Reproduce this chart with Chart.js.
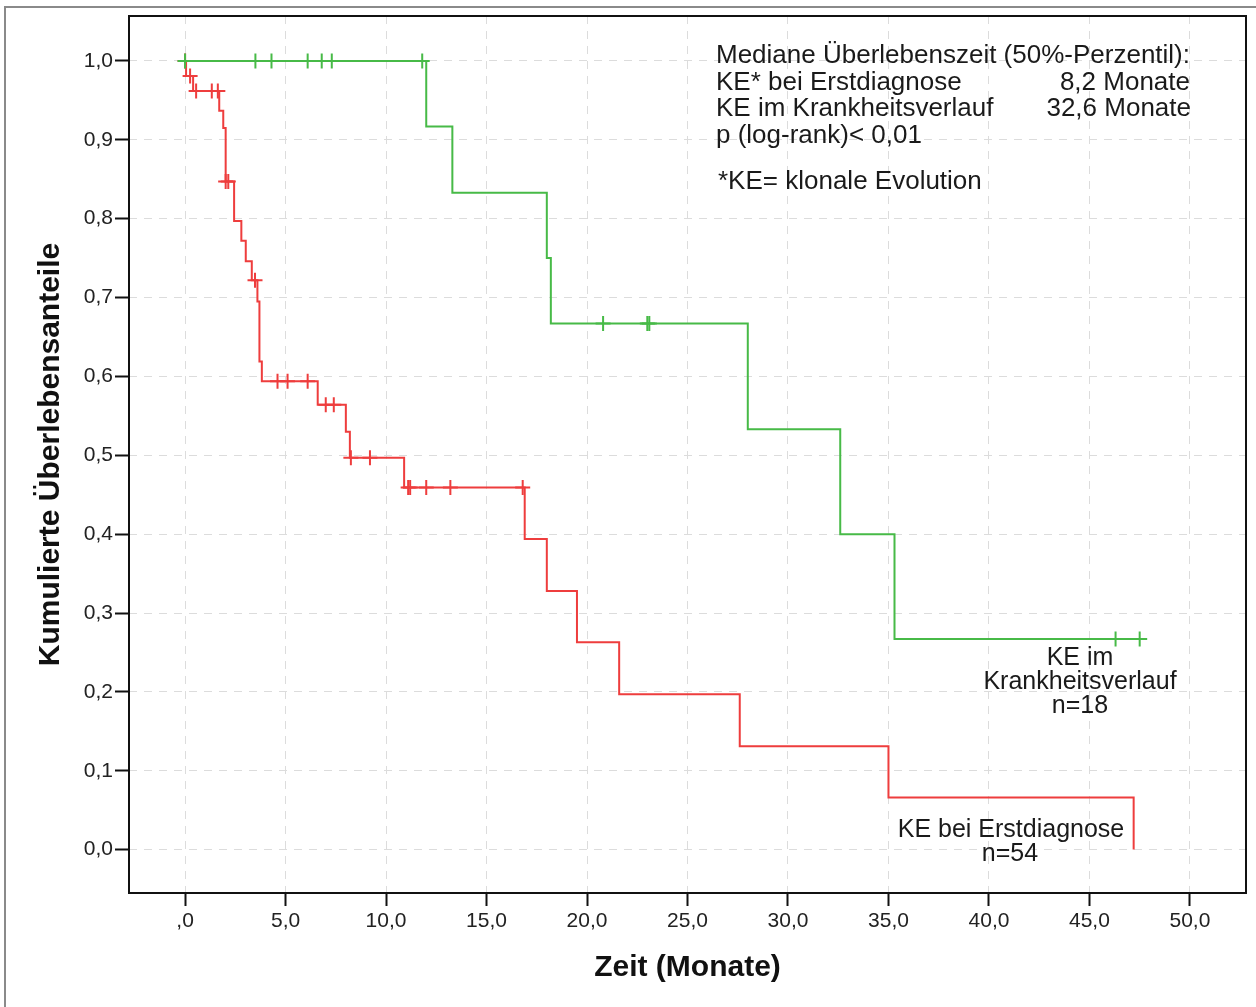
<!DOCTYPE html>
<html>
<head>
<meta charset="utf-8">
<script src="https://cdn.jsdelivr.net/npm/chart.js@4/dist/chart.umd.min.js"></script>
<style>
  html, body { margin: 0; padding: 0; background: #fff; }
  canvas { display: block; }
</style>
</head>
<body>
<canvas id="chart" width="1256" height="1007"></canvas>
<script>
// KE bei Erstdiagnose (n=54): times of the steps (months) and survival after each step
const redTimes = [0, 0.05, 0.4, 1.7, 1.9, 2.02, 2.44, 2.8, 3.02, 3.32, 3.6, 3.7, 3.82, 6.6, 8.0, 8.2, 10.9, 16.9, 18.0, 19.5, 21.6, 27.6, 35.0, 47.2];
const redSurv = [1.0, 0.981, 0.962, 0.937, 0.915, 0.847, 0.797, 0.772, 0.746, 0.722, 0.695, 0.619, 0.594, 0.564, 0.530, 0.497, 0.459, 0.394, 0.328, 0.263, 0.197, 0.131, 0.066, 0.0];
const redCensored = [0, 0.25, 0.55, 1.33, 1.63, 2.02, 2.15, 3.48, 4.6, 5.1, 6.1, 7.0, 7.4, 8.25, 9.2, 11.1, 11.2, 12.0, 13.2, 16.8];

// KE im Krankheitsverlauf (n=18)
const greenTimes = [0, 12.0, 13.3, 18.0, 18.2, 28.0, 32.6, 35.3, 47.5];
const greenSurv = [1.0, 0.917, 0.833, 0.750, 0.667, 0.533, 0.400, 0.267, 0.267];
const greenCensored = [0, 3.5, 4.3, 6.1, 6.8, 7.3, 11.8, 20.8, 23.0, 23.1, 46.3, 47.5];

// axes
const xTickValues = [0, 5, 10, 15, 20, 25, 30, 35, 40, 45, 50];
const xTickLabels = [',0', '5,0', '10,0', '15,0', '20,0', '25,0', '30,0', '35,0', '40,0', '45,0', '50,0'];
const yTickValues = [0, 0.1, 0.2, 0.3, 0.4, 0.5, 0.6, 0.7, 0.8, 0.9, 1.0];
const yTickLabels = ['0,0', '0,1', '0,2', '0,3', '0,4', '0,5', '0,6', '0,7', '0,8', '0,9', '1,0'];

const RED = '#ee3d3d';
const GREEN = '#47ba47';
const FONT = "'Liberation Sans', Arial, sans-serif";

// survival value of a curve at time t (for placing censor marks)
function survAt(times, surv, t) {
    let s = surv[0];
    times.forEach((tt, i) => { if (tt <= t) s = surv[i]; });
    return s;
}

function stepData(times, surv) {
    return times.map((t, i) => ({ x: t, y: surv[i] }));
}

function censorData(times, surv, cens) {
    return cens.map(t => ({ x: t, y: survAt(times, surv, t) }));
}

// white background, outer frame, plot box and the text notes
const decorations = {
    id: 'decorations',
    beforeDraw(chart) {
        const ctx = chart.ctx;
        ctx.save();
        ctx.fillStyle = '#fff';
        ctx.fillRect(0, 0, chart.width, chart.height);
        ctx.strokeStyle = '#8a8a8a';
        ctx.lineWidth = 2;
        ctx.strokeRect(5, 7, chart.width + 20, chart.height + 20);
        ctx.restore();
    },
    afterDraw(chart) {
        const { ctx, chartArea: a } = chart;
        ctx.save();
        ctx.strokeStyle = '#111';
        ctx.lineWidth = 2;
        ctx.strokeRect(a.left, a.top, a.right - a.left, a.bottom - a.top);

        ctx.fillStyle = '#1a1a1a';
        ctx.font = '26px ' + FONT;
        ctx.textBaseline = 'alphabetic';
        ctx.textAlign = 'left';
        ctx.fillText('Mediane Überlebenszeit (50%-Perzentil):', 716, 63);
        ctx.fillText('KE* bei Erstdiagnose', 716, 90);
        ctx.fillText('KE im Krankheitsverlauf', 716, 116);
        ctx.fillText('p (log-rank)< 0,01', 716, 143);
        ctx.fillText('*KE= klonale Evolution', 718, 189);
        ctx.textAlign = 'right';
        ctx.fillText('8,2 Monate', 1190, 90);
        ctx.fillText('32,6 Monate', 1191, 116);

        ctx.font = '25px ' + FONT;
        ctx.textAlign = 'center';
        ctx.fillText('KE im', 1080, 665);
        ctx.fillText('Krankheitsverlauf', 1080, 689);
        ctx.fillText('n=18', 1080, 713);
        ctx.fillText('KE bei Erstdiagnose', 1011, 837);
        ctx.fillText('n=54', 1010, 861);
        ctx.restore();
    }
};

const ctx = document.getElementById('chart').getContext('2d');
new Chart(ctx, {
    type: 'line',
    data: {
        datasets: [
            {
                data: stepData(greenTimes, greenSurv),
                borderColor: GREEN,
                borderWidth: 2,
                stepped: true,
                pointRadius: 0,
                fill: false
            },
            {
                type: 'scatter',
                data: censorData(greenTimes, greenSurv, greenCensored),
                pointStyle: 'cross',
                pointRadius: 7.5,
                borderWidth: 2,
                borderColor: GREEN,
                showLine: false
            },
            {
                data: stepData(redTimes, redSurv),
                borderColor: RED,
                borderWidth: 2,
                stepped: true,
                pointRadius: 0,
                fill: false
            },
            {
                type: 'scatter',
                data: censorData(redTimes, redSurv, redCensored),
                pointStyle: 'cross',
                pointRadius: 7.5,
                borderWidth: 2,
                borderColor: RED,
                showLine: false
            }
        ]
    },
    options: {
        responsive: false,
        animation: false,
        devicePixelRatio: 1,
        layout: { padding: { left: 0, top: 16, right: 10, bottom: 0 } },
        plugins: {
            legend: { display: false },
            tooltip: { enabled: false }
        },
        scales: {
            x: {
                type: 'linear',
                min: -2.79,
                max: 52.79,
                afterFit: (scale) => { scale.height = 114; },
                afterBuildTicks: (scale) => { scale.ticks = xTickValues.map(v => ({ value: v })); },
                ticks: {
                    autoSkip: false,
                    maxRotation: 0,
                    padding: 3,
                    color: '#222',
                    font: { family: FONT, size: 21 },
                    callback: (v, i) => xTickLabels[i]
                },
                grid: {
                    color: '#dcdcdc',
                    lineWidth: 1,
                    tickLength: 13,
                    tickColor: '#111',
                    tickWidth: 2
                },
                border: { display: false, dash: [8, 7] },
                title: {
                    display: true,
                    text: 'Zeit (Monate)',
                    color: '#111',
                    font: { family: FONT, size: 30, weight: 'bold' },
                    padding: { top: 0, bottom: 21 }
                }
            },
            y: {
                type: 'linear',
                min: -0.055,
                max: 1.057,
                afterFit: (scale) => { scale.width = 129; },
                afterBuildTicks: (scale) => { scale.ticks = yTickValues.map(v => ({ value: v })); },
                ticks: {
                    autoSkip: false,
                    padding: 2,
                    color: '#222',
                    font: { family: FONT, size: 21 },
                    callback: (v, i) => yTickLabels[i]
                },
                grid: {
                    color: '#dcdcdc',
                    lineWidth: 1,
                    tickLength: 14,
                    tickColor: '#111',
                    tickWidth: 2
                },
                border: { display: false, dash: [8, 7] },
                title: {
                    display: true,
                    text: 'Kumulierte Überlebensanteile',
                    color: '#111',
                    font: { family: FONT, size: 30, weight: 'bold' },
                    padding: { top: 33, bottom: 0 }
                }
            }
        }
    },
    plugins: [decorations]
});
</script>
</body>
</html>
